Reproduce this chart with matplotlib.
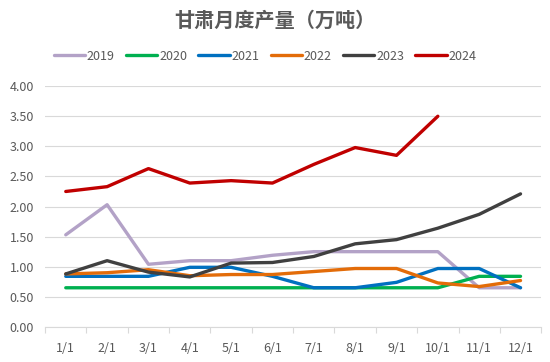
import matplotlib
matplotlib.use("Agg")
import matplotlib.pyplot as plt
import numpy as np

plt.rcParams['font.family'] = ['Noto Sans CJK SC', 'DejaVu Sans']

months = ["1/1", "2/1", "3/1", "4/1", "5/1", "6/1", "7/1", "8/1", "9/1", "10/1", "11/1", "12/1"]
y2019 = [1.53, 2.03, 1.04, 1.10, 1.10, 1.19, 1.25, 1.25, 1.25, 1.25, 0.65, 0.65]
y2020 = [0.65, 0.65, 0.65, 0.65, 0.65, 0.65, 0.65, 0.65, 0.65, 0.65, 0.84, 0.84]
y2021 = [0.84, 0.84, 0.84, 0.99, 0.99, 0.84, 0.65, 0.65, 0.74, 0.97, 0.97, 0.65]
y2022 = [0.88, 0.90, 0.95, 0.85, 0.87, 0.87, 0.92, 0.97, 0.97, 0.73, 0.67, 0.77]
y2023 = [0.88, 1.10, 0.91, 0.83, 1.06, 1.07, 1.17, 1.38, 1.45, 1.64, 1.87, 2.21]
y2024 = [2.25, 2.33, 2.63, 2.39, 2.43, 2.39, 2.70, 2.98, 2.85, 3.50]

series = [("2019", y2019, "#B3A2C7"), ("2020", y2020, "#00B050"), ("2021", y2021, "#0070C0"),
          ("2022", y2022, "#E36C09"), ("2023", y2023, "#404040"), ("2024", y2024, "#C00000")]

fig = plt.figure(figsize=(5.5, 3.62), dpi=100)
ax = fig.add_axes([0.082, 0.097, 0.902, 0.665])

for name, vals, col in series:
    ax.plot(np.arange(len(vals)), vals, color=col, lw=2.4, label=name, solid_capstyle='round', solid_joinstyle='round')

ax.set_xlim(-0.5, 11.5)
ax.set_ylim(0, 4)
ax.set_yticks(np.arange(0, 4.01, 0.5))
ax.set_yticklabels([f"{v:.2f}" for v in np.arange(0, 4.01, 0.5)])
ax.set_xticks(np.arange(12))
ax.set_xticklabels(months)
ax.set_xticks(np.arange(-0.5, 12, 1), minor=True)
ax.tick_params(axis='x', which='major', length=0, pad=11, labelsize=9, colors='#595959')
ax.tick_params(axis='x', which='minor', length=4, color='#D9D9D9', width=0.8)
ax.tick_params(axis='y', length=0, pad=8, labelsize=9, colors='#595959')
ax.grid(axis='y', color='#D9D9D9', lw=0.8)
ax.set_axisbelow(True)
for s in ['top', 'right', 'left']:
    ax.spines[s].set_visible(False)
ax.spines['bottom'].set_color('#D9D9D9')
ax.spines['bottom'].set_linewidth(0.8)

fig.text(0.5, 0.945, "甘肃月度产量（万吨）", ha='center', va='center', fontsize=14.5, color='#595959', fontweight='bold')
fig.legend(loc='center', bbox_to_anchor=(0.482, 0.845), ncol=6, frameon=False, fontsize=9,
           handlelength=2.5, handletextpad=0.15, columnspacing=0.9, labelcolor='#595959')

fig.savefig("out.png", dpi=100)
